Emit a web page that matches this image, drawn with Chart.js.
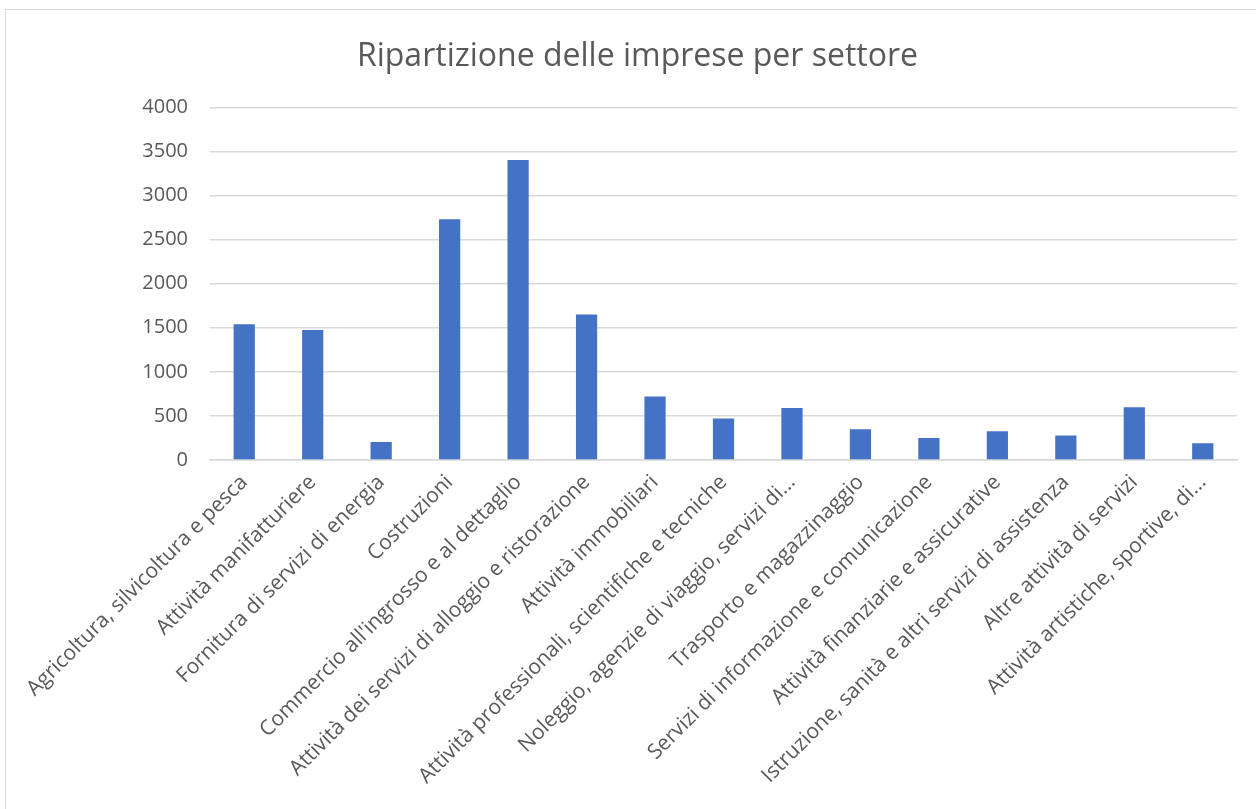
<!DOCTYPE html>
<html>
<head>
<meta charset="utf-8">
<script src="https://cdn.jsdelivr.net/npm/chart.js@4"></script>
<style>
  html, body { margin: 0; padding: 0; background: #fff; }
  #wrap { position: relative; width: 1256px; height: 809px; overflow: hidden; }
  #frame { position: absolute; left: 5px; top: 9px; width: 1400px; height: 1000px; border: 1px solid #d9d9d9; box-sizing: border-box; }
  canvas { position: absolute; left: 0; top: 0; }
</style>
</head>
<body>
<div id="wrap">
  <div id="frame"></div>
  <canvas id="c" width="1256" height="809"></canvas>
</div>
<script>
const categories = [
  "Agricoltura, silvicoltura e pesca",
  "Attività manifatturiere",
  "Fornitura di servizi di energia",
  "Costruzioni",
  "Commercio all'ingrosso e al dettaglio",
  "Attività dei servizi di alloggio e ristorazione",
  "Attività immobiliari",
  "Attività professionali, scientifiche e tecniche",
  "Noleggio, agenzie di viaggio, servizi di...",
  "Trasporto e magazzinaggio",
  "Servizi di informazione e comunicazione",
  "Attività finanziarie e assicurative",
  "Istruzione, sanità e altri servizi di assistenza",
  "Altre attività di servizi",
  "Attività artistiche, sportive, di..."
];
const imprese = [1540, 1474, 205, 2732, 3402, 1652, 720, 470, 591, 349, 250, 326, 277, 599, 190];
const yTicks = [0, 500, 1000, 1500, 2000, 2500, 3000, 3500, 4000];
const chartTitle = "Ripartizione delle imprese per settore";

const FONT = "'Open Sans', 'Noto Sans', sans-serif";
const TEXT = "#595959";
const GRID = "#d9d9d9";

new Chart(document.getElementById('c'), {
  type: 'bar',
  data: {
    labels: categories,
    datasets: [{
      data: imprese,
      backgroundColor: '#4472C4',
      borderWidth: 0,
      categoryPercentage: 1.0,
      barPercentage: 0.31
    }]
  },
  options: {
    responsive: false,
    devicePixelRatio: 1,
    animation: false,
    layout: { padding: { left: 38, right: 19, top: 0, bottom: 0 } },
    plugins: {
      legend: { display: false },
      tooltip: { enabled: false },
      title: {
        display: true,
        text: chartTitle,
        color: TEXT,
        font: { family: FONT, size: 32, weight: 'normal' },
        padding: { top: 38, bottom: 31 }
      }
    },
    scales: {
      x: {
        grid: { display: false, drawTicks: false },
        border: { display: true, color: GRID, width: 1.5 },
        ticks: {
          autoSkip: false,
          maxRotation: 45,
          minRotation: 45,
          color: TEXT,
          padding: 10,
          font: { family: FONT, size: 21 }
        },
        afterFit: (s) => { s.height = 349; }
      },
      y: {
        min: 0,
        max: 4000,
        afterBuildTicks: (s) => { s.ticks = yTicks.map(v => ({ value: v })); },
        grid: { color: GRID, lineWidth: 1.5, drawTicks: false },
        border: { display: false },
        ticks: {
          color: TEXT,
          padding: 22,
          font: { family: FONT, size: 20 },
          callback: (v) => String(v)
        },
        afterFit: (s) => { s.width = 172; }
      }
    }
  }
});
</script>
</body>
</html>
